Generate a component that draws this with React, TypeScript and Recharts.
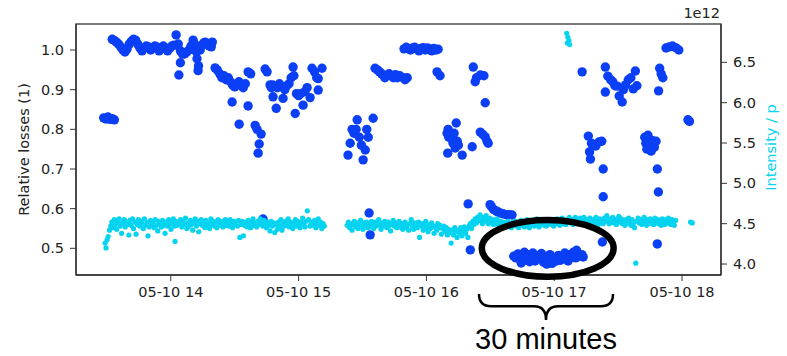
import React from 'react';
import { ScatterChart, Scatter, XAxis, YAxis, ReferenceArea } from 'recharts';

// time is minutes after 13:00 on 05-10
const X_DOMAIN = [15.5, 318.3];
const LOSS_DOMAIN = [0.4327, 1.0656];
const INTENSITY_DOMAIN = [3.864, 6.975];
const X_TICKS = [60, 120, 180, 240, 300];
const LOSS_TICKS = [0.5, 0.6, 0.7, 0.8, 0.9, 1.0];
const INTENSITY_TICKS = [4.0, 4.5, 5.0, 5.5, 6.0, 6.5];

const BLUE = '#0a3ff5';
const CYAN = '#05d3f0';
const FONT = '"DejaVu Sans", sans-serif';

// relative losses (left axis)
const lossEarly: [number, number][] = [
  [28.5, 0.829], [29.5, 0.826], [30.5, 0.831], [31.5, 0.825], [32.5, 0.827], [33.5, 0.824],
  [32.5, 1.027], [33.5, 1.024], [34.5, 1.02], [35.5, 1.015], [36.5, 1.008], [37.5, 1.0], [38.5, 0.995],
  [39.5, 1.003], [40.5, 1.015], [41.5, 1.022], [42.5, 1.027], [43.5, 1.025], [44.5, 1.015], [45.5, 1.005],
  [46.5, 0.998], [47.5, 1.005], [48.5, 1.01], [49.5, 1.008], [50.5, 1.0], [51.5, 1.004], [52.5, 1.01],
  [53.5, 1.008], [54.5, 0.998], [55.5, 1.003], [56.5, 1.01], [57.5, 1.005], [58.5, 0.998], [59.5, 1.004],
  [60.5, 1.01], [61.5, 1.012], [62.5, 1.038], [63.5, 1.015], [64.5, 0.998], [64.5, 0.968], [63.8, 0.937],
  [65.5, 0.99], [66.5, 0.99], [67.5, 0.995], [68.5, 1.0], [69.5, 1.01], [70.5, 1.025], [71.2, 1.015],
  [72, 0.995], [72.3, 0.978], [73, 0.96], [72.8, 0.948], [73.8, 1.0], [74.5, 1.012], [75.5, 1.018],
  [76.2, 1.02], [77, 1.015], [78, 1.01], [79, 1.008], [79.5, 1.02],
  [80.8, 0.955], [81.8, 0.95], [83, 0.94], [84, 0.93], [85, 0.935], [86, 0.925], [87, 0.93], [88, 0.92],
  [89, 0.912], [90, 0.907], [91, 0.915], [92, 0.92], [93, 0.91], [94, 0.905], [95, 0.915], [96.3, 0.945],
  [97.5, 0.94], [88.8, 0.869], [92.1, 0.813], [96.3, 0.859], [99.6, 0.81], [100.5, 0.8], [102.4, 0.788],
  [101.5, 0.763], [101, 0.74], [103.3, 0.574],
  [104.3, 0.952], [105.2, 0.945], [106.6, 0.912], [107.2, 0.905], [107.8, 0.912], [108, 0.882],
  [109.5, 0.853], [110, 0.905], [111, 0.915], [112.7, 0.878], [113.5, 0.9], [114.5, 0.91], [115.5, 0.915],
  [116.5, 0.93], [117.4, 0.957], [117.8, 0.935], [118.4, 0.84], [119, 0.89], [120, 0.885], [121, 0.89],
  [122.1, 0.861], [123, 0.895], [124, 0.905], [125.4, 0.88], [126.3, 0.954], [127.5, 0.945], [128.5, 0.93],
  [129.2, 0.928], [129.2, 0.899], [131, 0.954],
];

const lossMiddle: [number, number][] = [
  [143.2, 0.735], [144.2, 0.765], [145.1, 0.8], [146, 0.79], [147, 0.8], [147.5, 0.824], [148.5, 0.78],
  [149.5, 0.76], [150.3, 0.723], [151.3, 0.748], [152, 0.8], [152.7, 0.78], [155, 0.828],
  [153.1, 0.589], [153.6, 0.534],
  [155.9, 0.954], [157, 0.95], [158, 0.945], [159, 0.94], [159.7, 0.937], [160.5, 0.93], [161.5, 0.935],
  [162.5, 0.94], [163.5, 0.935], [164.5, 0.93], [165.5, 0.938], [166.3, 0.93], [167.5, 0.935],
  [169.1, 0.93], [170, 0.925], [171, 0.93],
  [169.5, 1.003], [170.5, 1.007], [171.5, 1.004], [172.5, 1.0], [173.5, 1.005], [174.5, 1.007],
  [175.5, 1.003], [176.5, 0.998], [177.5, 1.004], [178.5, 1.006], [179.5, 1.0], [180.5, 1.005],
  [181.5, 1.003], [182.5, 0.998], [183.5, 1.004], [184.5, 1.0], [185.5, 1.002],
  [185, 0.945], [186.4, 0.935],
  [202, 0.957], [202.9, 0.92], [203.5, 0.93], [205.3, 0.937], [207, 0.935], [207.6, 0.867],
  [189.7, 0.79], [190.2, 0.8], [190.5, 0.78], [191.5, 0.785], [192, 0.775], [192.5, 0.765], [193, 0.79],
  [193.5, 0.753], [194, 0.816], [194.5, 0.77], [195, 0.76], [190, 0.74], [196.8, 0.735], [201.5, 0.756],
  [205.3, 0.793], [206.5, 0.787], [207.6, 0.781], [208.5, 0.77], [209, 0.765],
  [199.6, 0.612], [200.6, 0.496], [209.9, 0.61], [210.5, 0.605], [211.5, 0.598], [212.5, 0.595],
  [213.5, 0.592], [214.6, 0.589], [216, 0.587], [217.5, 0.585], [219, 0.585], [220.2, 0.584],
];

// the low-loss half hour (circled)
const lossDip: [number, number][] = [
  [221, 0.48], [222, 0.476], [223, 0.486], [224, 0.472], [225, 0.482], [226, 0.49], [227, 0.47],
  [228, 0.484], [229, 0.477], [230, 0.488], [231, 0.468], [232, 0.48], [233, 0.474], [234, 0.487],
  [235, 0.465], [236, 0.478], [237, 0.47], [238, 0.484], [239, 0.462], [240, 0.475], [241, 0.468],
  [242, 0.482], [243, 0.47], [244, 0.478], [245, 0.488], [246, 0.474], [247, 0.484], [248, 0.479],
  [249, 0.49], [250, 0.476], [251, 0.486], [252, 0.48], [253, 0.484], [253.6, 0.478],
  [224.5, 0.463], [228.5, 0.466], [236.5, 0.46], [246.5, 0.468], [250.5, 0.495],
];

const lossLate: [number, number][] = [
  [253.1, 0.945],
  [256, 0.783], [256.6, 0.743], [257, 0.725], [257.5, 0.765], [258, 0.76], [259.5, 0.758], [261, 0.768],
  [262.3, 0.77], [263, 0.7], [263, 0.63], [262.6, 0.516],
  [282.5, 0.78], [283, 0.765], [283.5, 0.75], [284, 0.785], [284.8, 0.76], [285.5, 0.745], [286, 0.772],
  [287, 0.755], [287.8, 0.77], [288.4, 0.7], [288.9, 0.642], [288.4, 0.511],
  [264, 0.957], [265.2, 0.934], [266.5, 0.925], [264, 0.894], [267.5, 0.92], [268.5, 0.91],
  [269.6, 0.909], [270.5, 0.884], [271.9, 0.869], [272.5, 0.9], [273.5, 0.912], [274.8, 0.925],
  [276, 0.93], [277.1, 0.902], [278.1, 0.947], [278.8, 0.91],
  [289.5, 0.954], [290.2, 0.94], [291, 0.93], [289, 0.897],
  [292.5, 1.005], [294, 1.008], [295.5, 1.01], [297, 1.006], [298.5, 1.0],
  [302.8, 0.824], [303.5, 0.82],
];

// intensity / p in units of 1e12 (right axis)
const intensityEarly: [number, number][] = [
  [29.2, 4.26], [29.6, 4.2], [30.1, 4.3], [30.6, 4.34], [31.2, 4.42], [31.8, 4.47], [32.3, 4.52],
  [32.9, 4.45], [33.5, 4.55], [34.0, 4.49], [34.6, 4.43], [35.2, 4.52], [35.7, 4.56], [36.3, 4.47],
  [36.9, 4.38], [37.4, 4.51], [38.0, 4.55], [38.6, 4.46], [39.1, 4.53], [39.7, 4.49], [40.3, 4.36],
  [40.8, 4.54], [41.4, 4.48], [42.0, 4.56], [42.5, 4.44], [43.1, 4.52], [43.7, 4.37], [44.2, 4.49],
  [44.8, 4.55], [45.4, 4.47], [45.9, 4.53], [46.5, 4.5], [47.1, 4.44], [47.6, 4.56], [48.2, 4.48],
  [48.8, 4.52], [49.3, 4.35], [49.9, 4.46], [50.5, 4.54], [51.0, 4.49], [51.6, 4.52], [52.2, 4.45],
  [52.7, 4.55], [53.3, 4.48], [53.9, 4.41], [54.4, 4.53], [55.0, 4.5], [55.6, 4.46], [56.1, 4.54],
  [56.7, 4.48], [57.3, 4.38], [57.8, 4.52], [58.4, 4.47], [59.0, 4.55], [59.5, 4.49], [60.1, 4.43],
  [60.7, 4.51], [61.2, 4.56], [61.8, 4.47], [62.0, 4.28], [62.4, 4.53], [62.9, 4.48], [64.1, 4.5],
  [64.6, 4.55], [65.2, 4.46], [65.8, 4.52], [66.3, 4.49], [66.9, 4.57], [67.5, 4.44], [68.0, 4.51],
  [68.6, 4.47], [69.2, 4.54], [69.7, 4.49], [70.3, 4.42], [70.9, 4.52], [71.4, 4.56], [72.0, 4.47],
  [72.6, 4.53], [73.1, 4.4], [73.7, 4.5], [74.3, 4.55], [74.8, 4.48], [75.4, 4.52], [76.0, 4.45],
  [76.5, 4.54], [77.1, 4.49], [77.7, 4.51], [78.2, 4.44], [78.8, 4.56], [79.4, 4.49], [79.9, 4.53],
  [80.5, 4.47], [81.1, 4.52], [81.6, 4.45], [82.2, 4.55], [82.8, 4.5], [83.3, 4.48], [83.9, 4.53],
  [84.5, 4.46], [85.0, 4.51], [85.6, 4.55], [86.2, 4.48], [86.7, 4.52], [87.3, 4.47], [87.9, 4.55],
  [88.4, 4.5], [89.0, 4.45], [89.6, 4.53], [90.1, 4.49], [90.7, 4.52], [91.3, 4.47], [91.8, 4.54],
  [92.4, 4.33], [93.0, 4.49], [93.5, 4.53], [94.1, 4.35], [94.7, 4.48], [95.2, 4.52], [95.8, 4.46],
  [96.4, 4.54], [96.9, 4.49], [97.5, 4.45], [98.1, 4.52], [98.6, 4.56], [99.2, 4.48], [99.8, 4.51],
  [100.3, 4.46], [100.9, 4.53], [101.5, 4.49], [102.0, 4.56], [102.6, 4.52], [103.2, 4.47], [103.7, 4.54],
  [104.3, 4.5], [104.9, 4.45], [105.4, 4.52], [106.0, 4.48], [106.6, 4.41], [107.1, 4.53], [107.7, 4.47],
  [108.3, 4.51], [108.8, 4.39], [109.4, 4.49], [110.0, 4.43], [110.5, 4.52], [111.1, 4.47], [111.7, 4.55],
  [112.2, 4.42], [112.8, 4.5], [113.4, 4.47], [113.9, 4.53], [114.5, 4.49], [115.1, 4.56], [115.6, 4.46],
  [116.2, 4.52], [116.8, 4.48], [117.3, 4.44], [117.9, 4.51], [118.5, 4.55], [119.0, 4.47], [119.6, 4.53],
  [120.2, 4.49], [120.7, 4.45], [121.3, 4.52], [121.9, 4.57], [122.4, 4.5], [123.0, 4.46], [123.6, 4.53],
  [124.1, 4.66], [124.7, 4.55], [125.3, 4.47], [125.8, 4.49], [126.4, 4.52], [127.0, 4.48], [127.5, 4.54],
  [128.1, 4.45], [128.7, 4.51], [129.2, 4.56], [129.8, 4.48], [130.4, 4.52], [130.9, 4.44], [131.5, 4.5],
  [132.1, 4.47],
];

const intensityLate: [number, number][] = [
  [142.8, 4.48], [143.4, 4.52], [144.0, 4.45], [144.5, 4.5], [145.1, 4.42], [145.7, 4.49], [146.2, 4.53],
  [146.8, 4.46], [147.4, 4.51], [147.9, 4.44], [148.5, 4.49], [149.1, 4.54], [149.6, 4.47], [150.2, 4.43],
  [150.8, 4.51], [151.3, 4.48], [151.9, 4.52], [152.5, 4.45], [153.0, 4.5], [153.6, 4.46], [154.2, 4.53],
  [154.7, 4.49], [155.3, 4.44], [155.9, 4.52], [156.4, 4.47], [157.0, 4.5], [157.6, 4.55], [158.1, 4.48],
  [158.7, 4.43], [159.3, 4.51], [159.8, 4.47], [160.4, 4.53], [161.0, 4.49], [161.5, 4.45], [162.1, 4.52],
  [162.7, 4.48], [163.2, 4.41], [163.8, 4.5], [164.4, 4.54], [164.9, 4.47], [165.5, 4.51], [166.1, 4.45],
  [166.6, 4.49], [167.2, 4.53], [167.8, 4.46], [168.3, 4.5], [168.9, 4.43], [169.5, 4.48], [170.0, 4.52],
  [170.6, 4.45], [171.2, 4.49], [171.7, 4.42], [172.3, 4.5], [172.9, 4.55], [173.4, 4.47], [174.0, 4.43],
  [174.6, 4.51], [175.1, 4.48], [175.7, 4.45], [176.3, 4.52], [176.8, 4.33], [177.4, 4.47], [178.0, 4.5],
  [178.5, 4.42], [179.1, 4.48], [179.7, 4.53], [180.2, 4.45], [180.8, 4.4], [181.4, 4.49], [181.9, 4.44],
  [182.5, 4.51], [183.1, 4.46], [183.6, 4.38], [184.2, 4.47], [184.8, 4.42], [185.3, 4.5], [185.9, 4.45],
  [186.5, 4.48], [187.0, 4.37], [187.6, 4.44], [188.2, 4.47], [188.7, 4.4], [189.3, 4.45], [189.9, 4.36],
  [190.4, 4.43], [191.0, 4.39], [191.6, 4.26], [192.1, 4.42], [192.7, 4.36], [193.3, 4.45], [193.8, 4.4],
  [194.4, 4.33], [195.0, 4.42], [195.5, 4.38], [196.1, 4.45], [196.7, 4.35], [197.2, 4.41], [197.8, 4.46],
  [198.4, 4.38], [198.9, 4.43], [199.5, 4.33], [200.1, 4.47], [200.6, 4.5], [201.2, 4.44], [201.8, 4.53],
  [202.3, 4.49], [202.9, 4.56], [203.5, 4.51], [204.0, 4.58], [204.6, 4.54], [205.2, 4.61], [205.7, 4.55],
  [206.3, 4.5], [206.9, 4.58], [207.4, 4.53], [208.0, 4.6], [208.6, 4.55], [209.1, 4.5], [209.7, 4.57],
  [210.3, 4.52], [210.8, 4.55], [211.4, 4.49], [212.0, 4.54], [212.5, 4.5], [213.1, 4.56], [213.7, 4.51],
  [214.2, 4.47], [214.8, 4.53], [215.4, 4.49], [215.9, 4.52], [216.5, 4.46], [217.1, 4.51], [217.6, 4.48],
  [218.2, 4.53], [218.8, 4.47], [219.3, 4.5], [219.9, 4.45], [220.5, 4.52], [221.0, 4.49], [221.6, 4.53],
  [222.2, 4.47], [222.7, 4.51], [223.3, 4.45], [223.9, 4.5], [224.4, 4.54], [225.0, 4.48], [225.6, 4.52],
  [226.1, 4.46], [226.7, 4.5], [227.3, 4.55], [227.8, 4.49], [228.4, 4.45], [229.0, 4.52], [229.5, 4.48],
  [230.1, 4.53], [230.7, 4.47], [231.2, 4.51], [231.8, 4.56], [232.4, 4.49], [232.9, 4.46], [233.5, 4.52],
  [234.1, 4.5], [234.6, 4.54], [235.2, 4.48], [235.8, 4.51], [236.3, 4.47], [236.9, 4.53], [237.5, 4.5],
  [238.0, 4.55], [238.6, 4.49], [239.2, 4.52], [239.7, 4.47], [240.3, 4.54], [240.9, 4.5], [241.4, 4.56],
  [242.0, 4.51], [242.6, 4.48], [243.1, 4.53], [243.7, 4.57], [244.3, 4.5], [244.8, 4.54], [245.4, 4.49],
  [246.0, 4.55], [246.5, 4.52], [247.1, 4.58], [247.7, 4.51], [248.2, 4.55], [248.8, 4.49], [249.4, 4.53],
  [249.9, 4.58], [250.5, 4.5], [251.1, 4.55], [251.6, 4.52], [252.2, 4.57], [252.8, 4.49], [253.3, 4.54],
  [253.9, 4.58], [254.5, 4.51], [255.0, 4.55], [255.6, 4.5], [256.2, 4.53], [256.7, 4.57], [257.3, 4.52],
  [257.9, 4.48], [258.4, 4.55], [259.0, 4.51], [259.6, 4.58], [260.1, 4.53], [260.7, 4.49], [261.3, 4.56],
  [261.8, 4.52], [262.4, 4.55], [263.0, 4.5], [263.5, 4.57], [264.1, 4.53], [264.7, 4.6], [265.2, 4.54],
  [265.8, 4.5], [266.4, 4.56], [266.9, 4.52], [267.5, 4.58], [268.1, 4.51], [268.6, 4.55], [269.2, 4.49],
  [269.8, 4.54], [270.3, 4.59], [270.9, 4.52], [271.5, 4.56], [272.0, 4.5], [272.6, 4.54], [273.2, 4.48],
  [273.7, 4.55], [274.3, 4.51], [274.9, 4.57], [275.4, 4.52], [276.0, 4.48], [276.6, 4.55], [277.1, 4.5],
  [277.7, 4.45], [278.3, 4.01], [278.8, 4.53], [279.4, 4.57], [280.0, 4.51], [280.5, 4.55], [281.1, 4.49],
  [281.7, 4.54], [282.2, 4.58], [282.8, 4.52], [283.4, 4.48], [283.9, 4.55], [284.5, 4.51], [285.1, 4.56],
  [285.6, 4.5], [286.2, 4.54], [286.8, 4.49], [287.3, 4.57], [287.9, 4.52], [288.5, 4.55], [289.0, 4.5],
  [289.6, 4.54], [290.2, 4.48], [290.7, 4.56], [291.3, 4.52], [291.9, 4.49], [292.4, 4.55], [293.0, 4.51],
  [293.6, 4.57], [294.1, 4.53], [294.7, 4.49], [295.3, 4.55], [295.8, 4.52], [296.4, 4.48], [297.0, 4.54],
  [304.0, 4.52], [304.8, 4.51],
];

const intensitySpike: [number, number][] = [
  [245.9, 6.86], [246.4, 6.81], [246.9, 6.77], [246.2, 6.74], [247.2, 6.72],
];

// annotation: ellipse around the dip and the brace under it
const CIRCLE_T = [206, 267.9];
const CIRCLE_LOSS = [0.4284, 0.5714];
const BRACE_T = [204.7, 267.6];
const BRACE_LOSS = [0.3192, 0.3848];

const toRows = (pts: [number, number][]) => pts.map(([t, v]) => ({ t, v }));
const lossRows = toRows([...lossEarly, ...lossMiddle, ...lossDip, ...lossLate]);
const intensityRows = toRows([...intensityEarly, ...intensityLate, ...intensitySpike]);

const dot = (r: number, color: string) => (props: any) => (
  <circle cx={props.cx} cy={props.cy} r={r} fill={color} />
);

const FrameShape = (props: any) => {
  const { x, y, width, height } = props;
  return <rect x={x} y={y} width={width} height={height} fill="none" stroke="#333" strokeWidth={1.3} />;
};

const EllipseShape = (props: any) => {
  const { x, y, width, height } = props;
  return (
    <ellipse
      cx={x + width / 2}
      cy={y + height / 2}
      rx={Math.abs(width) / 2}
      ry={Math.abs(height) / 2}
      fill="none"
      stroke="#000"
      strokeWidth={6.5}
    />
  );
};

const BraceShape = (props: any) => {
  const { x, y, width, height } = props;
  const mid = x + width / 2;
  const h = y + height * 0.47;
  const d = [
    `M ${x} ${y}`,
    `Q ${x} ${h} ${x + 12} ${h}`,
    `L ${mid - 12} ${h}`,
    `Q ${mid} ${h} ${mid} ${y + height}`,
    `Q ${mid} ${h} ${mid + 12} ${h}`,
    `L ${x + width - 12} ${h}`,
    `Q ${x + width} ${h} ${x + width} ${y}`,
  ].join(' ');
  return (
    <g>
      <path d={d} fill="none" stroke="#000" strokeWidth={2.5} />
      <text
        x={mid}
        y={y + height + 29}
        textAnchor="middle"
        fontFamily='"Liberation Sans", Arial, sans-serif'
        fontSize={29}
        fill="#000"
      >
        30 minutes
      </text>
    </g>
  );
};

const LeftLabel = (props: any) => {
  const vb = props.viewBox;
  const cx = 24;
  const cy = vb.y + vb.height / 2;
  return (
    <text x={cx} y={cy} transform={`rotate(-90 ${cx} ${cy})`} textAnchor="middle"
      dominantBaseline="central" fontFamily={FONT} fontSize={14.5} fill="#222">
      Relative losses (1)
    </text>
  );
};

const RightLabel = (props: any) => {
  const vb = props.viewBox;
  const cx = 771;
  const cy = vb.y + vb.height / 2 - 2;
  return (
    <g>
      <text x={vb.x - 1} y={18} textAnchor="end" fontFamily={FONT} fontSize={14.5} fill="#222">
        1e12
      </text>
      <text x={cx} y={cy} transform={`rotate(-90 ${cx} ${cy})`} textAnchor="middle"
        dominantBaseline="central" fontFamily={FONT} fontSize={14.5} fill={CYAN}>
        Intensity / p
      </text>
    </g>
  );
};

const axisLine = { stroke: '#333', strokeWidth: 1.3 };
const tickStyle = { fill: '#222', fontSize: 14.5, fontFamily: FONT };

export default function App() {
  return (
    <div style={{ position: 'absolute', left: 0, top: 0, width: 787, height: 356, background: '#fff' }}>
      <ScatterChart width={787} height={356} margin={{ top: 24, right: 0, bottom: 0, left: 0 }}>
        <XAxis
          type="number"
          dataKey="t"
          domain={X_DOMAIN}
          allowDataOverflow
          ticks={X_TICKS}
          tickFormatter={(t: number) => `05-10 ${13 + t / 60}`}
          tick={tickStyle}
          tickSize={6}
          tickMargin={6}
          tickLine={{ stroke: '#333' }}
          axisLine={axisLine}
          height={81}
        />
        <YAxis
          yAxisId="left"
          type="number"
          dataKey="v"
          domain={LOSS_DOMAIN}
          allowDataOverflow
          ticks={LOSS_TICKS}
          tickFormatter={(v: number) => v.toFixed(1)}
          tick={tickStyle}
          tickSize={6}
          tickMargin={6}
          tickLine={{ stroke: '#333' }}
          axisLine={axisLine}
          width={76}
          label={LeftLabel}
        />
        <YAxis
          yAxisId="right"
          orientation="right"
          type="number"
          dataKey="v"
          domain={INTENSITY_DOMAIN}
          allowDataOverflow
          ticks={INTENSITY_TICKS}
          tickFormatter={(v: number) => v.toFixed(1)}
          tick={tickStyle}
          tickSize={6}
          tickMargin={6}
          tickLine={{ stroke: '#333' }}
          axisLine={axisLine}
          width={66}
          label={RightLabel}
        />
        <ReferenceArea
          yAxisId="left"
          x1={X_DOMAIN[0]}
          x2={X_DOMAIN[1]}
          y1={LOSS_DOMAIN[0]}
          y2={LOSS_DOMAIN[1]}
          ifOverflow="visible"
          shape={FrameShape}
        />
        <Scatter
          yAxisId="left"
          data={lossRows}
          dataKey="v"
          shape={dot(4.7, BLUE)}
          isAnimationActive={false}
        />
        <Scatter
          yAxisId="right"
          data={intensityRows}
          dataKey="v"
          shape={dot(2.6, CYAN)}
          isAnimationActive={false}
        />
        <ReferenceArea
          yAxisId="left"
          x1={CIRCLE_T[0]}
          x2={CIRCLE_T[1]}
          y1={CIRCLE_LOSS[0]}
          y2={CIRCLE_LOSS[1]}
          ifOverflow="visible"
          shape={EllipseShape}
          zIndex={1500}
        />
        <ReferenceArea
          yAxisId="left"
          x1={BRACE_T[0]}
          x2={BRACE_T[1]}
          y1={BRACE_LOSS[0]}
          y2={BRACE_LOSS[1]}
          ifOverflow="visible"
          shape={BraceShape}
          zIndex={1500}
        />
      </ScatterChart>
    </div>
  );
}
